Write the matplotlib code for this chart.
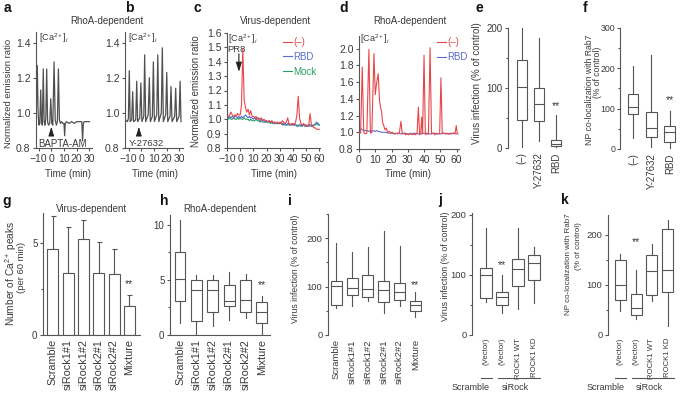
import numpy as np
import matplotlib
matplotlib.use('Agg')
import matplotlib.pyplot as plt
from matplotlib import transforms
from matplotlib.lines import Line2D

plt.rcParams['font.family'] = ['Liberation Sans', 'DejaVu Sans']
plt.rcParams['mathtext.fontset'] = 'custom'
plt.rcParams['mathtext.rm'] = 'Liberation Sans'
plt.rcParams['mathtext.it'] = 'Liberation Sans:italic'
plt.rcParams['font.size'] = 7

TXT = '#3a3a3a'
LN = '#555555'
RED = '#e8474a'
BLUE = '#5b6ccf'
GREEN = '#27a05c'

# ---------------- data ----------------
trace_a_t = [-12.0, -11.6, -11.0, -10.4, -9.8, -9.0, -8.3, -7.6, -7.0, -6.3, -5.6, -5.0, -4.3, -3.6, -2.9,
             -2.2, -1.2, -0.4, 0.4, 1.2, 2.2, 3.1, 4.0, 4.8, 5.6, 6.4, 7.2, 8.0, 9.0, 10.0, 10.5, 11.0,
             12.0, 14.0, 16.0, 18.0, 20.0, 22.0, 24.0, 24.6, 25.2, 26.0, 28.0, 30.0]
trace_a_v = [0.96, 1.05, 1.27, 1.02, 0.93, 0.94, 1.13, 0.94, 0.93, 1.25, 0.95, 0.93, 0.97, 1.25, 0.95,
             0.93, 0.94, 1.08, 0.94, 0.93, 1.29, 0.96, 0.93, 0.95, 1.25, 0.96, 0.94, 0.95, 0.94, 0.94, 0.87, 0.94,
             0.95, 0.94, 0.95, 0.94, 0.95, 0.95, 0.95, 0.84, 0.94, 0.95, 0.95, 0.95]

trace_b = [(-12.8, 0.96), (-11.0, 0.95), (-10.3, 0.97), (-9.6, 1.24), (-8.9, 0.95), (-7.7, 0.96),
           (-6.9, 1.12), (-6.2, 0.95), (-4.5, 0.96), (-3.7, 1.18), (-3.0, 0.95), (-1.3, 0.97),
           (-0.4, 1.17), (0.4, 0.95), (1.9, 0.98), (2.6, 1.33), (3.4, 0.95), (5.4, 0.99), (6.3, 1.20),
           (7.1, 0.95), (8.7, 0.98), (9.5, 1.29), (10.3, 0.95), (12.2, 0.99), (13.0, 1.33), (13.8, 0.95),
           (15.8, 1.00), (16.6, 1.37), (17.4, 0.95), (19.3, 0.99), (20.1, 1.23), (20.9, 0.95), (22.7, 0.98),
           (23.5, 1.15), (24.3, 0.95), (26.4, 0.98), (27.2, 1.14), (28.0, 0.95), (29.9, 0.98), (30.7, 1.18),
           (31.4, 0.95)]

time_c = np.arange(-10, 61)
c_neg = [1.02, 1.02, 1.03, 1.05, 1.03, 1.02, 1.03, 1.02, 1.04, 1.03,
         1.03, 1.10, 1.49, 1.14, 1.08, 1.05, 1.07, 1.03, 1.06, 1.02,
         1.02, 1.01, 1.02, 1.00, 1.01, 1.00, 1.01, 0.99, 1.00, 0.99,
         0.99, 0.98, 0.99, 0.98, 0.99, 0.98, 0.98, 0.97, 0.98, 0.97,
         0.98, 0.97, 0.99, 0.98, 0.97, 0.98, 1.01, 0.97, 0.96, 0.97,
         0.97, 0.96, 0.98, 1.03, 1.16, 1.01, 0.97, 0.96, 0.97, 0.96,
         0.96, 0.95, 0.96, 1.04, 0.96, 0.95, 0.94, 0.94, 0.93, 0.93,
         0.93]
c_rbd = [1.02, 1.01, 1.02, 1.01, 1.02, 1.01, 1.02, 1.02, 1.01, 1.02,
         1.01, 1.02, 1.01, 1.02, 1.03, 1.02, 1.01, 1.02, 1.01, 1.01,
         1.00, 1.01, 1.00, 1.01, 1.00, 0.99, 1.00, 0.99, 0.99, 0.98,
         0.99, 0.98, 0.99, 0.98, 0.98, 0.97, 0.98, 0.97, 0.98, 0.97,
         0.97, 0.98, 0.97, 0.96, 0.97, 0.96, 0.97, 0.96, 0.96, 0.97,
         0.96, 0.97, 0.96, 0.96, 0.95, 0.96, 0.96, 0.95, 0.96, 0.96,
         0.95, 0.96, 0.95, 0.96, 0.95, 0.95, 0.96, 0.97, 0.98, 0.97,
         0.96]
c_mock = [1.00, 1.00, 1.01, 1.00, 1.00, 1.01, 1.00, 1.00, 1.01, 1.00,
          1.01, 1.00, 1.00, 1.01, 1.00, 1.00, 1.00, 0.99, 1.00, 0.99,
          0.99, 0.99, 1.00, 0.99, 0.99, 0.98, 0.99, 0.98, 0.98, 0.98,
          0.98, 0.98, 0.98, 0.97, 0.98, 0.97, 0.97, 0.97, 0.97, 0.97,
          0.97, 0.97, 0.96, 0.97, 0.96, 0.96, 0.96, 0.97, 0.96, 0.96,
          0.96, 0.96, 0.96, 0.95, 0.96, 0.96, 0.95, 0.96, 0.96, 0.95,
          0.96, 0.95, 0.96, 0.96, 0.95, 0.96, 0.96, 0.96, 0.97, 0.96,
          0.96]

d_neg = [(0.0, 1.00), (1.0, 0.99), (2.0, 1.78), (2.9, 1.00), (3.8, 0.98), (4.8, 0.99), (6.1, 1.99),
         (7.0, 0.99), (7.9, 1.00), (9.2, 1.94), (10.0, 1.45), (10.6, 1.55), (11.1, 1.62), (11.8, 1.70),
         (12.6, 1.38), (13.2, 1.30), (13.9, 1.25), (14.5, 1.12), (15.2, 1.08), (16.0, 1.03), (16.8, 1.05),
         (17.6, 1.00), (18.6, 1.01), (19.6, 0.99), (20.6, 1.00), (21.6, 0.98), (22.6, 0.99), (23.6, 0.98),
         (24.8, 0.99), (25.8, 1.13), (26.6, 0.98), (27.6, 0.99), (28.6, 0.97), (29.6, 0.98), (30.6, 0.97),
         (31.6, 0.99), (32.6, 0.97), (33.6, 0.98), (34.6, 0.97), (35.7, 0.99), (36.5, 1.30), (37.3, 0.97),
         (38.0, 0.99), (38.5, 1.18), (39.1, 0.98), (40.0, 1.92), (40.8, 0.97), (41.6, 0.99), (42.7, 0.98),
         (43.7, 2.01), (44.6, 0.98), (45.6, 0.99), (46.6, 0.97), (47.6, 0.99), (48.6, 0.98), (49.6, 0.99),
         (50.4, 1.65), (51.2, 0.98), (52.2, 0.99), (53.2, 0.98), (54.2, 0.99), (55.2, 0.98), (56.2, 0.99),
         (57.2, 0.98), (58.2, 0.99), (59.0, 0.98), (59.8, 1.08), (60.4, 0.99), (61.0, 0.98)]
d_rbd = [(0, 1.03), (1, 1.04), (2, 1.03), (3, 1.02), (4, 1.02), (5, 1.02), (6, 1.01), (7, 1.02), (8, 1.01),
         (9, 1.02), (10, 1.01), (11, 1.02), (12, 1.01), (14, 1.00), (16, 1.00), (18, 0.99), (20, 0.99),
         (22, 0.98), (24, 0.99), (26, 0.98), (28, 0.99), (30, 0.98), (32, 0.98), (34, 0.99), (36, 0.98),
         (38, 0.98), (40, 0.99), (42, 0.98), (44, 0.98), (46, 0.99), (48, 0.98), (50, 0.98), (52, 0.99),
         (54, 0.98), (56, 0.98), (58, 0.99), (60, 0.98)]

e_labels = ['(\u2013)', 'Y-27632', 'RBD']
e_med = [101, 73, 7]
e_q1 = [47, 45, 3]
e_q3 = [147, 100, 13]
e_lo = [2, 11, 2]
e_hi = [200, 183, 55]

f_labels = ['(\u2013)', 'Y-27632', 'RBD']
f_med = [104, 52, 43]
f_q1 = [87, 29, 18]
f_q3 = [137, 92, 58]
f_lo = [28, 6, 2]
f_hi = [206, 233, 93]

g_labels = ['Scramble', 'siRock1#1', 'siRock1#2', 'siRock2#1', 'siRock2#2', 'Mixture']
g_mean = [4.7, 3.37, 5.2, 3.37, 3.3, 1.55]
g_sd = [1.75, 2.5, 1.05, 1.68, 1.4, 0.65]

h_labels = ['Scramble', 'siRock1#1', 'siRock1#2', 'siRock2#1', 'siRock2#2', 'Mixture']
h_med = [5.1, 4.1, 4.1, 3.1, 3.2, 2.05]
h_q1 = [3.1, 1.3, 2.05, 2.6, 2.1, 1.1]
h_q3 = [7.5, 5.0, 5.0, 4.5, 5.0, 3.0]
h_lo = [1.05, 0.0, 0.8, 1.4, 1.5, 0.0]
h_hi = [10.45, 5.45, 5.45, 5.7, 5.5, 3.5]

i_labels = ['Scramble', 'siRock1#1', 'siRock1#2', 'siRock2#1', 'siRock2#2', 'Mixture']
i_med = [102, 98, 95, 94, 89, 62]
i_q1 = [62, 83, 78, 69, 72, 50]
i_q3 = [112, 118, 124, 112, 107, 70]
i_lo = [55, 60, 70, 46, 60, 38]
i_hi = [190, 172, 181, 214, 183, 88]

j_labels = ['(Vector)', '(Vector)', 'ROCK1 WT', 'ROCK1 KD']
j_med = [100, 63, 110, 119]
j_q1 = [62, 50, 82, 92]
j_q3 = [111, 72, 126, 133]
j_lo = [55, 36, 44, 54]
j_hi = [178, 100, 178, 147]

k_labels = ['(Vector)', '(Vector)', 'ROCK1 WT', 'ROCK1 KD']
k_med = [100, 55, 128, 130]
k_q1 = [70, 41, 80, 87]
k_q3 = [150, 83, 161, 213]
k_lo = [49, 33, 69, 18]
k_hi = [163, 130, 183, 230]

# ---------------- figure ----------------
W, H = 685, 407
fig = plt.figure(figsize=(W / 100, H / 100), dpi=100)


def add_ax(x0, y0, x1, y1, tsize=7.5):
    ax = fig.add_axes([x0 / W, 1 - y1 / H, (x1 - x0) / W, (y1 - y0) / H])
    ax.patch.set_alpha(0)
    for s in ['top', 'right']:
        ax.spines[s].set_visible(False)
    for s in ['left', 'bottom']:
        ax.spines[s].set_color(LN)
        ax.spines[s].set_linewidth(0.8)
    ax.tick_params(colors=LN, labelcolor=TXT, length=2.5, width=0.8, pad=1.5, labelsize=tsize)
    return ax


def ftext(x, y, s, **kw):
    kw.setdefault('color', TXT)
    kw.setdefault('fontsize', 7)
    fig.text(x / W, 1 - y / H, s, **kw)


def box_panel(ax, labels, med, q1, q3, lo, hi, width, lsize=7.0):
    stats = [dict(med=m, q1=a, q3=b, whislo=l, whishi=h, label=lab)
             for lab, m, a, b, l, h in zip(labels, med, q1, q3, lo, hi)]
    pos = np.arange(1, len(labels) + 1)
    ax.bxp(stats, positions=pos, widths=width, showfliers=False, showcaps=False, patch_artist=True,
           boxprops=dict(facecolor='white', edgecolor=LN, linewidth=0.8),
           whiskerprops=dict(color=LN, linewidth=0.8),
           medianprops=dict(color=LN, linewidth=0.8))
    ax.set_xticks(pos)
    ax.set_xticklabels(labels, rotation=90, fontsize=lsize)
    ax.tick_params(axis='x', length=0, pad=3)
    return pos


def stars(ax, x, y):
    ax.text(x, y, '**', ha='center', va='center', color=TXT, fontsize=7.5)


def minor(ax, ticks):
    ax.set_yticks(ticks, minor=True)
    ax.tick_params(which='minor', length=1.5, width=0.8, colors=LN)


ca_label = r'[Ca$^{2+}$]$_i$'
ARW = dict(arrowstyle='-|>,head_length=0.8,head_width=0.25', color='#222222', lw=0.6, shrinkA=0, shrinkB=0)

# ---- a ----
ax = add_ax(36, 32, 92, 148)
ax.plot(trace_a_t, trace_a_v, color='#505050', lw=0.9)
ax.set_xlim(-12, 32)
ax.set_ylim(0.8, 1.46)
ax.set_xticks([-10, 0, 10, 20, 30])
ax.set_xticklabels(['\u221210', '0', '10', '20', '30'])
ax.set_yticks([0.8, 1.0, 1.2, 1.4])
ax.set_yticklabels(['0.8', '1.0', '1.2', '1.4'])
ax.text(0.05, 1.01, ca_label, transform=ax.transAxes, ha='left', va='top', color=TXT, fontsize=6.5)
ax.annotate('', xy=(0, 0.92), xytext=(0, 0.872), arrowprops=ARW)
ftext(63, 144, 'BAPTA-AM', ha='center', va='center', fontsize=7)

# ---- b ----
ax = add_ax(125, 32, 183, 148)
tb = [p[0] for p in trace_b]
vb = [p[1] for p in trace_b]
ax.plot(tb, vb, color='#505050', lw=0.9)
ax.set_xlim(-13, 33)
ax.set_ylim(0.8, 1.46)
ax.set_xticks([-10, 0, 10, 20, 30])
ax.set_xticklabels(['\u221210', '0', '10', '20', '30'])
ax.set_yticks([0.8, 1.0, 1.2, 1.4])
ax.set_yticklabels(['0.8', '1.0', '1.2', '1.4'])
ax.text(0.05, 1.01, ca_label, transform=ax.transAxes, ha='left', va='top', color=TXT, fontsize=6.5)
ax.annotate('', xy=(-2, 0.92), xytext=(-2, 0.872), arrowprops=ARW)
ftext(146, 144, 'Y-27632', ha='center', va='center', fontsize=6.8)

# ---- c ----
ax = add_ax(227, 33, 320, 148)
l1, = ax.plot(time_c, c_neg, color=RED, lw=0.8, zorder=3)
l2, = ax.plot(time_c, c_rbd, color=BLUE, lw=0.8, zorder=2)
l3, = ax.plot(time_c, c_mock, color=GREEN, lw=0.8, zorder=1)
ax.set_xlim(-10, 60.5)
ax.set_ylim(0.8, 1.6)
ax.set_xticks(np.arange(-10, 61, 10))
ax.set_xticklabels(['\u221210', '0', '10', '20', '30', '40', '50', '60'])
ax.set_yticks(np.arange(0.8, 1.61, 0.1))
ax.set_yticklabels(['0.8', '0.9', '1.0', '1.1', '1.2', '1.3', '1.4', '1.5', '1.6'])
ax.text(0.01, 1.01, ca_label, transform=ax.transAxes, ha='left', va='top', color=TXT, fontsize=6.5)
ax.text(-3, 1.452, 'PR8', ha='center', va='bottom', color=TXT, fontsize=6.8)
ax.annotate('', xy=(-1, 1.33), xytext=(-1, 1.455), arrowprops=dict(ARW, lw=0.8))
ax.legend([l1, l2, l3], ['(\u2013)', 'RBD', 'Mock'], loc='upper left', bbox_to_anchor=(0.6, 0.965),
          frameon=False, handlelength=0.9, handletextpad=0.15, labelspacing=0.5, borderpad=0,
          borderaxespad=0, labelcolor='linecolor', fontsize=7)

# ---- d ----
ax = add_ax(359, 36, 459, 149)
m1, = ax.plot([p[0] for p in d_neg], [p[1] for p in d_neg], color=RED, lw=0.8, zorder=3)
m2, = ax.plot([p[0] for p in d_rbd], [p[1] for p in d_rbd], color=BLUE, lw=0.8, zorder=2)
ax.set_xlim(0, 61.5)
ax.set_ylim(0.8, 2.15)
ax.set_xticks(np.arange(0, 61, 10))
ax.set_yticks(np.arange(0.8, 2.01, 0.2))
ax.set_yticklabels(['0.8', '1.0', '1.2', '1.4', '1.6', '1.8', '2.0'])
ax.text(0.01, 1.035, ca_label, transform=ax.transAxes, ha='left', va='top', color=TXT, fontsize=6.5)
ax.legend([m1, m2], ['(\u2013)', 'RBD'], loc='upper left', bbox_to_anchor=(0.78, 0.99),
          frameon=False, handlelength=0.9, handletextpad=0.15, labelspacing=0.5, borderpad=0,
          borderaxespad=0, labelcolor='linecolor', fontsize=7)

# ---- e ----
ax = add_ax(508, 28, 566, 148, tsize=7)
box_panel(ax, e_labels, e_med, e_q1, e_q3, e_lo, e_hi, 0.59, lsize=7)
ax.spines['bottom'].set_visible(False)
ax.set_xlim(0.2, 3.6)
ax.set_ylim(0, 200)
ax.set_yticks([0, 100, 200])
minor(ax, [50, 150])
stars(ax, 3, 70)

# ---- f ----
ax = add_ax(620, 28, 680, 149, tsize=6.3)
box_panel(ax, f_labels, f_med, f_q1, f_q3, f_lo, f_hi, 0.58, lsize=7)
ax.spines['bottom'].set_visible(False)
ax.tick_params(axis='y', pad=1)
ax.set_xlim(0.3, 3.55)
ax.set_ylim(0, 300)
ax.set_yticks([0, 100, 200, 300])
minor(ax, [50, 150, 250])
stars(ax, 3, 121)

# ---- g ----
ax = add_ax(43, 213, 140, 335, tsize=7)
gpos = np.arange(1, len(g_labels) + 1)
ax.bar(gpos, g_mean, width=0.72, color='white', edgecolor=LN, linewidth=0.8, zorder=2,
       yerr=[np.zeros(len(g_sd)), g_sd], capsize=1.8,
       error_kw=dict(ecolor=LN, elinewidth=0.8, capthick=0.8, zorder=1))
ax.set_xlim(0.35, 6.7)
ax.set_ylim(0, 6.63)
ax.set_xticks(gpos)
ax.set_xticklabels(g_labels, rotation=90, fontsize=7.8)
ax.tick_params(axis='x', length=0, pad=3)
ax.set_yticks([0, 5])
minor(ax, [2.5])
stars(ax, 6, 2.75)

# ---- h ----
ax = add_ax(170, 215, 270, 335, tsize=7)
box_panel(ax, h_labels, h_med, h_q1, h_q3, h_lo, h_hi, 0.67, lsize=7.8)
ax.set_xlim(0.39, 6.49)
ax.set_ylim(0, 10.9)
ax.set_yticks([0, 5, 10])
minor(ax, [2.5, 7.5])
stars(ax, 6, 4.5)

# ---- i ----
ax = add_ax(328, 214, 422, 335, tsize=6.8)
box_panel(ax, i_labels, i_med, i_q1, i_q3, i_lo, i_hi, 0.7, lsize=6.8)
ax.spines['bottom'].set_visible(False)
ax.set_xlim(0.47, 6.42)
ax.set_ylim(0, 250)
ax.set_yticks([0, 100, 200])
minor(ax, [50, 150, 250])
stars(ax, 6, 104)

# ---- j ----
axj = add_ax(472, 213, 544, 335, tsize=6.8)
box_panel(axj, j_labels, j_med, j_q1, j_q3, j_lo, j_hi, 0.69, lsize=5.6)
axj.spines['bottom'].set_visible(False)
axj.tick_params(axis='x', pad=2)
axj.set_xlim(0.125, 4.625)
axj.set_ylim(0, 203)
axj.set_yticks([0, 100, 200])
minor(axj, [50, 150])
stars(axj, 2, 117)

# ---- k ----
axk = add_ax(608, 215, 680, 335, tsize=6.8)
box_panel(axk, k_labels, k_med, k_q1, k_q3, k_lo, k_hi, 0.7, lsize=5.6)
axk.spines['bottom'].set_visible(False)
axk.tick_params(axis='x', pad=2)
axk.set_xlim(0.22, 4.78)
axk.set_ylim(0, 240)
axk.set_yticks([0, 100, 200])
minor(axk, [50, 150])
stars(axk, 2, 185)

# group brackets under j and k
for axx in (axj, axk):
    tr = transforms.blended_transform_factory(axx.transData, fig.transFigure)
    yl = 1 - 378 / H
    axx.add_line(Line2D([0.68, 1.38], [yl, yl], transform=tr, color=LN, lw=0.8, clip_on=False))
    axx.add_line(Line2D([1.72, 4.38], [yl, yl], transform=tr, color=LN, lw=0.8, clip_on=False))
    axx.text(0.05, 1 - 387 / H, 'Scramble', transform=tr, ha='center', va='center', color=TXT, fontsize=6.5)
    axx.text(2.85, 1 - 387 / H, 'siRock', transform=tr, ha='center', va='center', color=TXT, fontsize=6.5)

# ---------------- texts ----------------
for s, x, y in [('a', 4, 12), ('b', 125, 12), ('c', 193, 12), ('d', 339, 12), ('e', 475, 12), ('f', 583, 12),
                ('g', 2, 205), ('h', 160, 205), ('i', 288, 205), ('j', 438, 204), ('k', 561, 204)]:
    ftext(x, y, s, ha='left', va='baseline', fontsize=10, fontweight='bold', color='#111111')

ftext(107, 21, 'RhoA-dependent', ha='center', va='center')
ftext(276, 21, 'Virus-dependent', ha='center', va='center')
ftext(410, 21, 'RhoA-dependent', ha='center', va='center')
ftext(92, 209, 'Virus-dependent', ha='center', va='center')
ftext(220, 209, 'RhoA-dependent', ha='center', va='center')

for x in (68, 155, 274, 408):
    ftext(x, 174, 'Time (min)', ha='center', va='center', fontsize=7)

ftext(9, 93, 'Normalized emission ratio', rotation=90, ha='center', va='center', fontsize=6.8)
ftext(196, 91, 'Normalized emission ratio', rotation=90, ha='center', va='center', fontsize=7)
ftext(477, 83, 'Virus infection (% of control)', rotation=90, ha='center', va='center', fontsize=7)
ftext(589, 90, 'NP co-localization with Rab7', rotation=90, ha='center', va='center', fontsize=6.2)
ftext(597, 72, '(% of control)', rotation=90, ha='center', va='center', fontsize=6.2)
ftext(11, 273, r'Number of Ca$^{2+}$ peaks', rotation=90, ha='center', va='center', fontsize=7.3)
ftext(22, 267, '(per 60 min)', rotation=90, ha='center', va='center', fontsize=6.8)
ftext(296, 269, 'Virus infection (% of control)', rotation=90, ha='center', va='center', fontsize=6.2)
ftext(446, 266, 'Virus infection (% of control)', rotation=90, ha='center', va='center', fontsize=6.3)
ftext(569, 264, 'NP co-localization with Rab7', rotation=90, ha='center', va='center', fontsize=5.8)
ftext(579, 246, '(% of control)', rotation=90, ha='center', va='center', fontsize=5.8)

fig.savefig('out.png', dpi=100)
